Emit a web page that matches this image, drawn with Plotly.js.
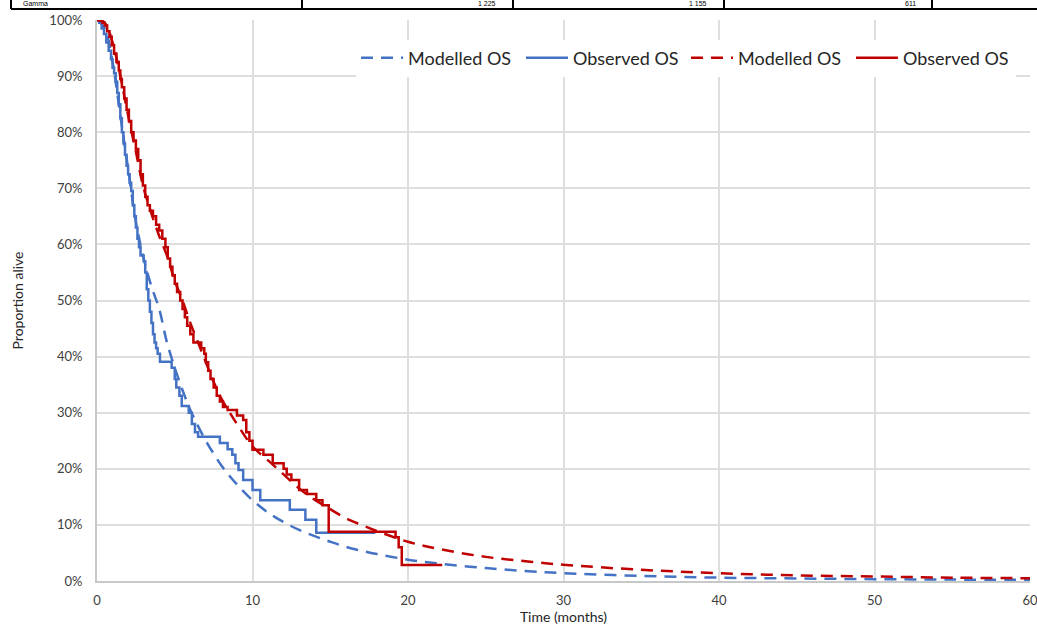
<!DOCTYPE html>
<html>
<head>
<meta charset="utf-8">
<script src="https://cdn.plot.ly/plotly-3.0.1.min.js"></script>
<style>html,body{margin:0;padding:0;background:#fff;}#chart{width:1037px;height:626px;}</style>
</head>
<body>
<div id="chart"></div>
<script>
// Modelled OS (smooth curves), time in months, proportion in %
const modelTime = [0,0.5,1,1.5,2,2.5,3,3.5,4,4.5,5,5.5,6,6.5,7,7.5,8,8.5,9,10,11,12,13,14,15,16,17,18,20,22,25,28,30,35,40,45,50,55,60];
const blueModel = [100,98.5,92.5,83,73.5,64,57.5,52.5,48.5,42.5,38,34,30.5,27.6,25,22.7,20.6,18.8,17.2,14.4,12.2,10.5,9.1,8.0,7.0,6.1,5.4,4.8,3.8,3.1,2.3,1.7,1.4,0.9,0.6,0.45,0.33,0.25,0.2];
const redModel  = [100,99.5,96,90,83,76.5,70,65.5,61.5,58,53.5,50,46,42.5,39,35.5,32.5,30.2,28,24,21.5,19,16.5,14.5,12.8,11.2,10,8.9,7.0,5.7,4.3,3.4,2.9,2.0,1.4,1.0,0.8,0.6,0.5];

// Observed OS (Kaplan-Meier steps)
const blueObsTime = [0,0.15,0.3,0.45,0.6,0.75,0.9,1.0,1.1,1.2,1.3,1.4,1.5,1.6,1.7,1.8,1.9,2.0,2.1,2.2,2.3,2.4,2.5,2.6,2.7,2.8,3.0,3.1,3.2,3.3,3.4,3.5,3.6,3.7,3.8,3.9,4.05,4.8,5.0,5.1,5.3,5.45,5.9,6.1,6.3,6.5,7.9,8.4,8.7,8.9,9.1,9.4,10.0,10.5,12.4,13.4,14.1,17.9];
const blueObs     = [100,99.5,98.5,97.5,96,94.5,93,91.5,90.5,89,87,85,82.5,80,78,76,74,72.5,71,69.5,67,65,63,61,59.5,58,57,55,52,50,48,46,44,42.5,41.5,40.5,39.1,38,36,34.5,33,31.2,30,28,26.5,25.7,24.6,23.5,22.5,21,19.8,18,16.2,14.4,12.7,10.9,8.6,8.6];
const redObsTime  = [0,0.2,0.35,0.5,0.65,0.8,0.95,1.1,1.25,1.4,1.5,1.6,1.75,1.9,2.05,2.2,2.35,2.5,2.65,2.8,2.95,3.1,3.25,3.4,3.6,3.8,4.0,4.2,4.4,4.55,4.7,4.85,5.0,5.15,5.35,5.5,5.65,5.8,6.0,6.2,6.7,6.9,7.0,7.15,7.3,7.5,7.7,7.9,8.1,8.4,9.0,9.4,9.6,9.8,10.0,10.7,11.3,12.0,12.2,12.5,13.0,13.5,14.1,14.5,14.9,19.2,19.4,19.6,22.2];
const redObs      = [100,100,99.5,99,98,97,95.5,94,92.5,91,89.5,88,86,84,82,80,78.5,77,75,72.5,70.5,68.5,67,66,65,63.5,62.5,61,59.5,57.5,56,54.5,53,51.5,50,48.5,47,45.5,44,42.5,41.5,40.5,39,37.5,36,34.5,33,32,31,30.5,29.5,28.7,26.5,25,23.4,22.5,21,20,19,18,16.2,15.5,14.4,13.5,8.8,7.8,6,2.85,2.85];

const seriesNames = ['Modelled OS','Observed OS','Modelled OS','Observed OS'];
const xTicks = [0,10,20,30,40,50,60];
const yTicks = [0,10,20,30,40,50,60,70,80,90,100];
const yTickText = yTicks.map(v => v + '%');

// Table fragment at the top of the image
const tableTexts = ['Gamma','1 225','1 155','611'];

const BLUE = '#4472C4', RED = '#C00000';
const DASH = '12px,8px';
const traces = [
  {x: modelTime, y: blueModel, name: seriesNames[0], mode: 'lines', line: {color: BLUE, width: 2.5, dash: DASH, shape: 'spline'}},
  {x: blueObsTime, y: blueObs, name: seriesNames[1], mode: 'lines', line: {color: BLUE, width: 2.5, shape: 'hv'}},
  {x: modelTime, y: redModel, name: seriesNames[2], mode: 'lines', line: {color: RED, width: 2.5, dash: DASH, shape: 'spline'}},
  {x: redObsTime, y: redObs, name: seriesNames[3], mode: 'lines', line: {color: RED, width: 2.5, shape: 'hv'}}
];

const FONT = 'Lato, "Open Sans", sans-serif';
const pxY = p => (581 - p) / 561;   // pixel -> paper y
const pxX = p => (p - 97) / 933;    // pixel -> paper x

const shapes = [
  {type: 'line', xref: 'paper', yref: 'paper', x0: pxX(11), x1: pxX(1040), y0: pxY(9), y1: pxY(9), line: {color: '#000', width: 2}}
];
[11, 302, 513, 724, 932].forEach(px => shapes.push({type: 'line', xref: 'paper', yref: 'paper', x0: pxX(px), x1: pxX(px), y0: pxY(9), y1: pxY(-5), line: {color: '#000', width: 2}}));

const annPos = [{x: 22, a: 'left'}, {x: 497, a: 'right'}, {x: 708, a: 'right'}, {x: 917, a: 'right'}];
const annotations = tableTexts.map((t, i) => ({
  text: t, xref: 'paper', yref: 'paper', x: pxX(annPos[i].x), xanchor: annPos[i].a,
  y: pxY(8), yanchor: 'bottom', showarrow: false, borderpad: 0,
  font: {family: 'Liberation Sans, sans-serif', size: 7, color: '#000'}
}));

const layout = {
  width: 1037, height: 626,
  margin: {l: 97, r: 7, t: 20, b: 45},
  paper_bgcolor: '#fff', plot_bgcolor: '#fff',
  font: {family: FONT, color: '#404040', size: 12},
  showlegend: true,
  legend: {orientation: 'h', x: 0.985, xanchor: 'right', y: 0.932, yanchor: 'middle', bgcolor: 'rgba(255,255,255,1)',
           font: {family: FONT, size: 18, color: '#262626'}, tracegroupgap: 0, itemwidth: 42,
           entrywidth: 108, entrywidthmode: 'pixels'},
  xaxis: {range: [0, 60], tickvals: xTicks, ticktext: xTicks.map(String), showgrid: true, gridcolor: '#dedede', gridwidth: 2,
          zeroline: false, showline: true, linecolor: '#c8c8c8', linewidth: 2, ticks: '', ticklabelstandoff: 6,
          ticklabeloverflow: 'allow', tickfont: {size: 13, color: '#404040'},
          title: {text: 'Time (months)', font: {size: 14, color: '#262626'}, standoff: 4}},
  yaxis: {range: [0, 100], tickvals: yTicks, ticktext: yTickText, showgrid: true, gridcolor: '#dedede', gridwidth: 2,
          zeroline: false, showline: true, linecolor: '#c8c8c8', linewidth: 2, ticks: '', ticklabelstandoff: 10,
          tickfont: {size: 13, color: '#404040'},
          title: {text: 'Proportion alive', font: {size: 14, color: '#262626'}, standoff: 22}},
  shapes: shapes,
  annotations: annotations
};

Plotly.newPlot('chart', traces, layout, {displayModeBar: false, staticPlot: true});
</script>
</body>
</html>
